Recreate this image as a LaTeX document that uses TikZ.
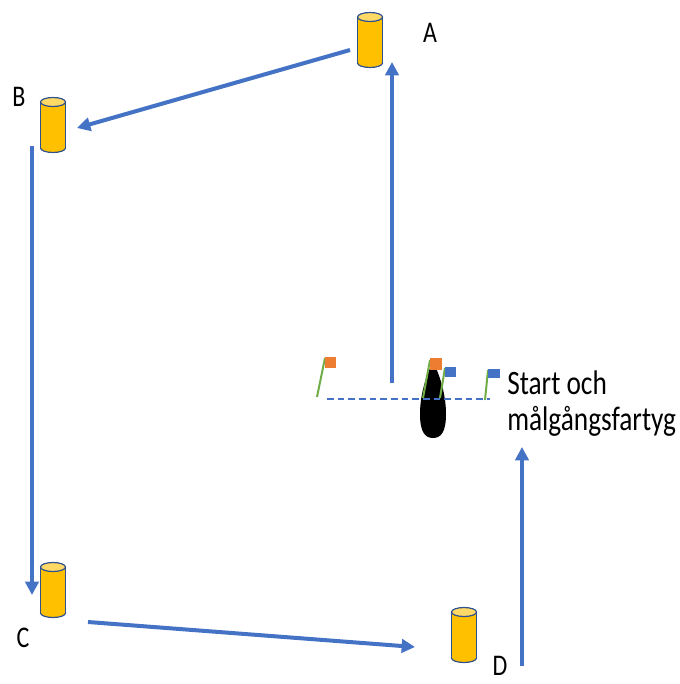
\documentclass[tikz,border=0pt]{standalone}
\usepackage{fontspec}
\setmainfont{Carlito}
\usepackage{tikz}
\usetikzlibrary{arrows.meta}
\definecolor{arrowblue}{HTML}{4472C4}
\definecolor{buoyyellow}{HTML}{FFC000}
\definecolor{buoytop}{HTML}{FFD966}
\definecolor{buoyedge}{HTML}{2F528F}
\definecolor{flagorange}{HTML}{ED7D31}
\definecolor{polegreen}{HTML}{70AD47}
\newcommand{\tallbox}[1]{\scalebox{1}[1.25]{#1}}
% buoy: name, x, y
\newcommand{\buoyat}[3]{%
  \node[buoy box] (#1) at (#2,#3) {};
  \filldraw[buoy line, fill=buoyyellow] (#2,{#3+23}) ellipse [x radius=12.5, y radius=4.5];
  \fill[buoyyellow] ({#2-12.5},{#3-23}) rectangle ({#2+12.5},{#3+23});
  \draw[buoy line] ({#2-12.5},{#3-23}) -- ({#2-12.5},{#3+23});
  \draw[buoy line] ({#2+12.5},{#3-23}) -- ({#2+12.5},{#3+23});
  \filldraw[buoy line, fill=buoytop] (#2,{#3-23}) ellipse [x radius=12.5, y radius=4.5];
}

\begin{document}
\begin{tikzpicture}[
    x=0.75pt, y=-0.75pt,
    route/.style={-{Triangle[length=10pt,width=10pt]}, line width=3pt, arrowblue},
    buoy box/.style={minimum width=18.75pt, minimum height=41.25pt, inner sep=0pt},
    buoy line/.style={draw=buoyedge, line width=0.9pt},
    mark label/.style={font=\fontsize{18}{22}\selectfont, inner sep=0pt},
    flag pole/.style={polegreen, line width=1.5pt},
    start line/.style={arrowblue, line width=0.9pt, dash pattern=on 5pt off 3pt},
    every node/.style={color=black}
    ]
    \useasboundingbox (0,0) rectangle (680,684);

    % buoys
    \buoyat{A}{370}{40}
    \buoyat{B}{53}{125}
    \buoyat{C}{53}{590}
    \buoyat{D}{464}{635}
    \node[mark label] (Alabel) at (430,33) {\tallbox{A}};
    \node[mark label] (Blabel) at (19,97) {\tallbox{B}};
    \node[mark label] (Clabel) at (23,638) {\tallbox{C}};
    \node[mark label] (Dlabel) at (500,666) {\tallbox{D}};

    % arrow ends
    \coordinate (AB1) at (350,50);
    \coordinate (AB2) at (77,128);
    \coordinate (BC1) at (32,146);
    \coordinate (BC2) at (32,595);
    \coordinate (CD1) at (88,622);
    \coordinate (CD2) at (415,647);
    \coordinate (DS1) at (522,666);
    \coordinate (DS2) at (522,447);
    \coordinate (SA1) at (392,383);
    \coordinate (SA2) at (392,62);
    % course
    \draw[route] (AB1) -- (AB2);
    \draw[route] (BC1) -- (BC2);
    \draw[route] (CD1) -- (CD2);
    \draw[route] (DS1) -- (DS2);
    \draw[route] (SA1) -- (SA2);

    % start and finish vessel
    \fill[black] (433,362) .. controls (440,375) and (446,395) .. (446,414)
      .. controls (446,432) and (441,438) .. (433,438)
      .. controls (425,438) and (420,432) .. (420,414)
      .. controls (420,395) and (426,375) .. (433,362) -- cycle;
    % flags
    \draw[flag pole] (317,397) -- (325,358);
    \fill[flagorange] (325,357) rectangle (336,368);
    \draw[flag pole] (423,398) -- (430,360);
    \fill[flagorange] (430,358) rectangle (442,370);
    \draw[flag pole] (440,398) -- (445,368);
    \fill[arrowblue] (445,367) rectangle (456,377);
    \draw[flag pole] (485,400) -- (488,370);
    \fill[arrowblue] (488,369) rectangle (500,378);
    \coordinate (L1) at (327,399);
    \coordinate (L2) at (490,399);
    \draw[start line] (L1) -- (L2);
    \node[anchor=north west, inner sep=0pt, align=left,
      font=\fontsize{20.5}{27}\selectfont] (vessel) at (507,371)
      {\tallbox{Start och}\\\tallbox{målgångsfartyg}};
\end{tikzpicture}
\end{document}
